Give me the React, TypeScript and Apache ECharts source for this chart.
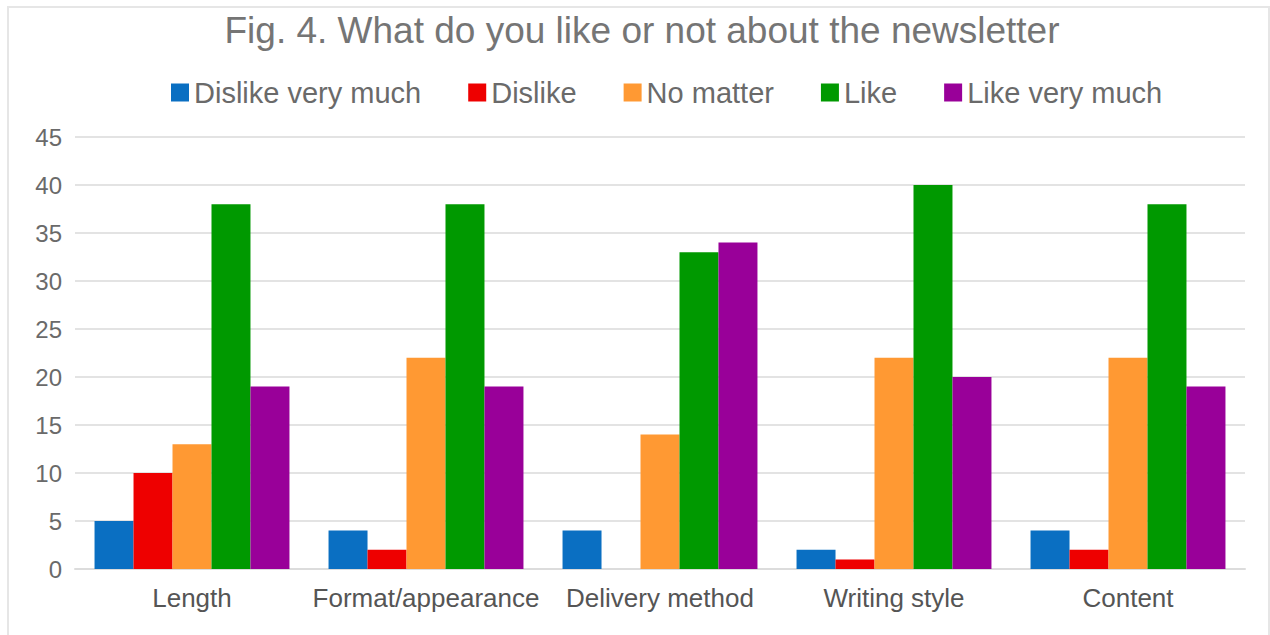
import React, { useEffect, useRef } from "react";
import * as echarts from "echarts";

const categories = ["Length", "Format/appearance", "Delivery method", "Writing style", "Content"];
const seriesNames = ["Dislike very much", "Dislike", "No matter", "Like", "Like very much"];
const dislikeVeryMuch = [5, 4, 4, 2, 4];
const dislike = [10, 2, 0, 1, 2];
const noMatter = [13, 22, 14, 22, 22];
const like = [38, 38, 33, 40, 38];
const likeVeryMuch = [19, 19, 34, 20, 19];
const colors = ["#0a6fc2", "#ee0000", "#ff9933", "#009900", "#990099"];
const yTicks = [0, 5, 10, 15, 20, 25, 30, 35, 40, 45];

export default function App() {
  const ref = useRef<HTMLDivElement>(null);
  useEffect(() => {
    document.body.style.margin = "0";
    const chart = echarts.init(ref.current!, null, { renderer: "svg" });
    const data = [dislikeVeryMuch, dislike, noMatter, like, likeVeryMuch];
    chart.setOption({
      animation: false,
      backgroundColor: "#ffffff",
      textStyle: { fontFamily: "Liberation Sans, Arial, sans-serif" },
      title: {
        text: "Fig. 4. What do you like or not about the newsletter",
        left: 637,
        textAlign: "center",
        top: 7,
        textStyle: { fontSize: 37, fontWeight: "normal", color: "#757575", fontFamily: "Liberation Sans, Arial, sans-serif" },
      },
      legend: {
        top: 73,
        left: 166,
        itemWidth: 18,
        itemHeight: 18,
        itemGap: 47,
        icon: "rect",
        textStyle: { fontSize: 29, color: "#6a6a6a", padding: [0, 0, 0, 0] },
        data: seriesNames,
      },
      grid: { left: 75, right: 25, top: 137, bottom: 66, containLabel: false },
      xAxis: {
        type: "category",
        data: categories,
        axisLine: { show: true, lineStyle: { color: "#dcdcdc", width: 2 } },
        axisTick: { show: false },
        axisLabel: { fontSize: 26, color: "#555555", margin: 16, interval: 0 },
      },
      yAxis: {
        type: "value",
        min: yTicks[0],
        max: yTicks[yTicks.length - 1],
        interval: 5,
        axisLine: { show: false },
        axisTick: { show: false },
        axisLabel: { fontSize: 24, color: "#6a6a6a", margin: 13 },
        splitLine: { lineStyle: { color: "#e3e3e3", width: 2 } },
      },
      graphic: [
        {
          type: "rect",
          shape: { x: 8, y: 7, width: 1261, height: 640 },
          style: { fill: "none", stroke: "#e6e6e6", lineWidth: 2 },
          silent: true,
        },
      ],
      series: seriesNames.map((name, i) => ({
        name,
        type: "bar",
        data: data[i],
        barGap: "0%",
        barCategoryGap: "16.7%",
        itemStyle: { color: colors[i] },
      })),
    });
    return () => chart.dispose();
  }, []);
  return <div ref={ref} style={{ width: 1270, height: 635 }} />;
}
